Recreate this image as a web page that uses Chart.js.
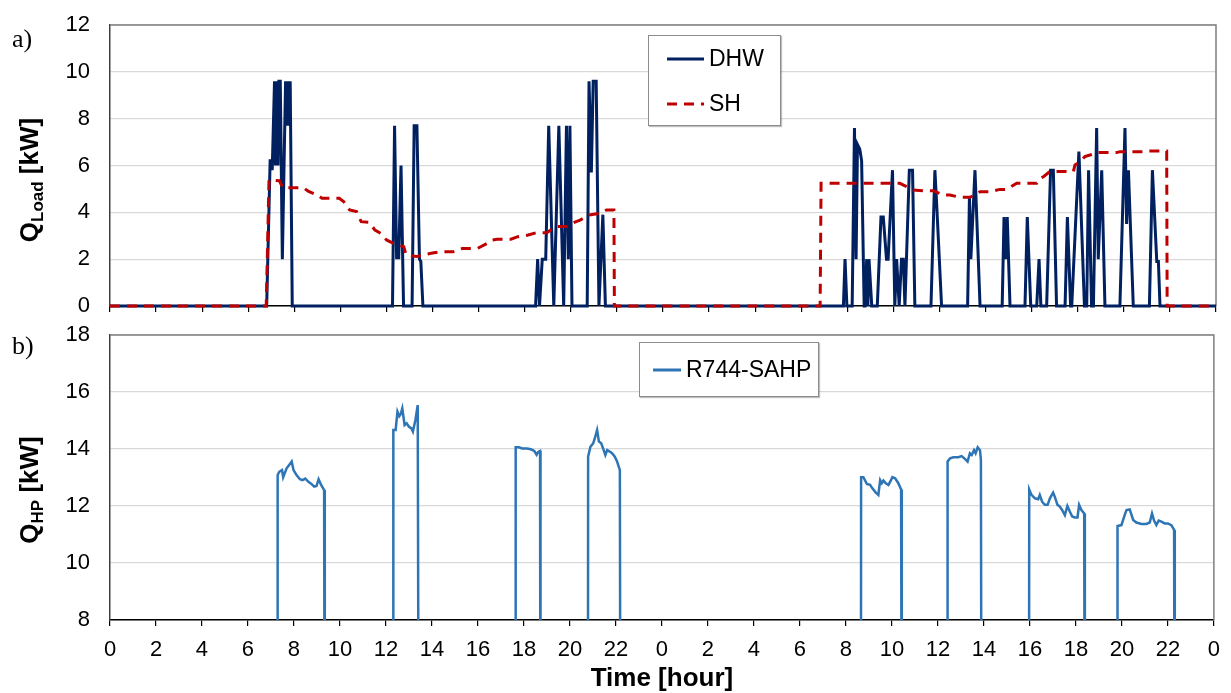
<!DOCTYPE html>
<html>
<head>
<meta charset="utf-8">
<title>DHW / SH load and R744-SAHP heat output</title>
<script src="https://cdn.jsdelivr.net/npm/chart.js@4.4.1/dist/chart.umd.min.js"></script>
<style>
  body { margin: 0; background: #fff; }
  #wrap { position: relative; width: 1231px; height: 693px; overflow: hidden; font-family: Arial, "Liberation Sans", sans-serif; }
  .panel { position: absolute; left: 0; }
  .tag { position: absolute; left: 12px; font: 26px "Liberation Serif", "Times New Roman", serif; line-height: 1; }
  .ytitle { position: absolute; font-weight: bold; font-size: 26px; line-height: 1; white-space: nowrap;
            transform: translate(-50%, -50%) rotate(-90deg); }
  .ytitle sub { font-size: 17px; vertical-align: -5px; line-height: 0; }
  .legend { position: absolute; background: #fff; border: 1px solid #8c8c8c; box-shadow: 1px 1px 1px rgba(0,0,0,0.25); font-size: 23px; }
  .item { position: absolute; display: flex; align-items: center; line-height: 1; }
  .item svg { margin-right: 5px; }
</style>
</head>
<body>
<div id="wrap">
  <canvas id="topChart" class="panel" width="1231" height="320" style="top:0"></canvas>
  <canvas id="botChart" class="panel" width="1231" height="373" style="top:320px"></canvas>

  <div class="tag" style="top:26px">a)</div>
  <div class="tag" style="top:333px">b)</div>
  <div class="ytitle" style="left:29px; top:180px">Q<sub>Load</sub> [kW]</div>
  <div class="ytitle" style="left:29px; top:490px">Q<sub>HP</sub> [kW]</div>

  <div class="legend" style="left:648px; top:35px; width:131px; height:89px">
    <div class="item" style="left:18px; top:11px">
      <svg width="37" height="6"><line x1="0" y1="3" x2="37" y2="3" stroke="#002060" stroke-width="3"/></svg>DHW
    </div>
    <div class="item" style="left:18px; top:56px">
      <svg width="37" height="6"><line x1="0" y1="3" x2="37" y2="3" stroke="#c00000" stroke-width="3" stroke-dasharray="10 7"/></svg>SH
    </div>
  </div>
  <div class="legend" style="left:639px; top:342px; width:178px; height:53px">
    <div class="item" style="left:13px; top:15px">
      <svg width="28" height="6"><line x1="0" y1="3" x2="28" y2="3" stroke="#2e75b6" stroke-width="3"/></svg>R744-SAHP
    </div>
  </div>
</div>

<script>
// ---- Data (time in hours over two days, loads in kW) ----
const dhwTime = [0, 6.80, 6.95, 7.00, 7.04, 7.14, 7.18, 7.24, 7.29, 7.33, 7.39, 7.48, 7.62, 7.68, 7.74, 7.78, 7.82, 7.91,
  12.26, 12.35, 12.44, 12.49, 12.53, 12.63, 12.74,
  13.11, 13.20, 13.32, 13.43, 13.49, 13.58,
  18.47, 18.56, 18.64, 18.76, 18.91, 19.04, 19.26, 19.48, 19.69, 19.81, 19.89, 19.96, 20.05,
  20.71, 20.79, 20.83, 20.89, 20.97, 21.10, 21.22, 21.39, 21.50,
  31.83, 31.90, 31.98,
  32.21, 32.31, 32.38, 32.44, 32.54, 32.62, 32.73,
  32.77, 32.84, 32.89, 32.94, 33.06,
  33.30, 33.46, 33.56, 33.70, 33.77, 33.96, 34.06, 34.14, 34.25, 34.35, 34.43, 34.50, 34.69, 34.83, 34.93,
  35.63, 35.80, 35.88, 36.09,
  37.22, 37.30, 37.36, 37.54, 37.76,
  38.72, 38.80, 38.87, 38.94, 39.06,
  39.71, 39.81, 39.96,
  40.22, 40.32, 40.40,
  40.65, 40.82, 40.94, 41.08,
  41.45, 41.55, 41.69,
  41.74, 42.05, 42.29,
  42.39, 42.47, 42.60,
  42.68, 42.82, 42.89, 43.04, 43.18,
  43.83, 44.05, 44.12, 44.20, 44.41,
  45.11, 45.24, 45.43, 45.50, 45.57, 48];
const dhwLoad = [0, 0, 6.2, 6.2, 5.8, 9.6, 6.0, 9.6, 6.0, 9.6, 9.6, 2.0, 9.6, 7.7, 9.6, 7.7, 9.6, 0,
  0, 7.7, 2.0, 2.6, 2.0, 6.0, 0,
  0, 7.7, 7.7, 2.0, 1.9, 0,
  0, 2.0, 0, 2.0, 2.0, 7.7, 0, 7.7, 0, 7.7, 2.0, 7.7, 0,
  0, 9.6, 9.6, 5.7, 9.6, 9.6, 0, 3.9, 0,
  0, 2.0, 0,
  0, 7.6, 2.0, 6.9, 6.7, 6.2, 0,
  0, 2.0, 0, 2.0, 0,
  0, 3.8, 3.8, 2.0, 2.0, 5.8, 0, 2.0, 0, 2.0, 2.0, 0, 5.8, 5.8, 0,
  0, 5.8, 4.3, 0,
  0, 4.7, 2.0, 5.8, 0,
  0, 3.8, 2.0, 3.8, 0,
  0, 3.8, 0,
  0, 2.0, 0,
  0, 5.8, 5.8, 0,
  0, 3.8, 0,
  0, 6.6, 0,
  0, 5.8, 0,
  0, 7.6, 2.0, 5.8, 0,
  0, 7.6, 3.5, 5.8, 0,
  0, 5.8, 1.9, 1.9, 0, 0];

const shTime = [0, 6.78, 6.90, 7.35, 7.50, 8.40, 8.60, 9.00, 9.20, 9.95, 10.15, 10.40, 10.70, 10.90, 11.25, 11.50,
  11.75, 12.00, 12.30, 12.75, 12.85, 13.30, 13.60, 14.00, 14.40, 14.90, 15.30, 15.95, 16.40, 16.60, 16.80,
  17.40, 17.70, 18.15, 18.50, 18.95, 19.35, 19.85, 20.05, 20.40, 20.80, 21.25, 21.55, 21.87, 21.89,
  30.82, 30.86, 34.28, 34.57, 34.86, 35.29, 35.73, 36.16, 36.45, 36.89, 37.32, 37.76, 38.19, 38.62, 38.91,
  39.35, 40.22, 40.36, 40.51, 40.79, 41.81, 41.88, 42.10, 42.31, 42.53, 42.82, 43.69, 43.83, 44.85, 45.00,
  45.86, 45.88, 48];
const shLoad = [0, 0, 5.38, 5.35, 5.05, 5.05, 4.90, 4.74, 4.60, 4.60, 4.45, 4.10, 4.03, 3.60, 3.57, 3.24,
  3.10, 2.82, 2.68, 2.53, 2.18, 2.11, 2.18, 2.26, 2.32, 2.32, 2.46, 2.46, 2.69, 2.82, 2.85,
  2.85, 2.96, 3.03, 3.13, 3.13, 3.39, 3.39, 3.53, 3.67, 3.89, 3.96, 4.10, 4.10, 0,
  0, 5.24, 5.24, 5.10, 4.95, 4.92, 4.92, 4.74, 4.74, 4.64, 4.64, 4.88, 4.88, 4.98, 4.98,
  5.24, 5.24, 5.45, 5.52, 5.74, 5.74, 6.02, 6.16, 6.38, 6.45, 6.55, 6.55, 6.59, 6.59, 6.62,
  6.62, 0, 0];

const hpTime = [0,
  7.28, 7.29, 7.36, 7.48, 7.53, 7.68, 7.79, 7.90, 7.98, 8.11, 8.26, 8.37, 8.49, 8.63, 8.78, 8.88, 8.98, 9.07, 9.17, 9.31, 9.34,
  12.31, 12.32, 12.42, 12.50, 12.58, 12.64, 12.71, 12.81, 12.90, 13.00, 13.10, 13.17, 13.28, 13.38, 13.43,
  17.63, 17.64, 17.78, 17.93, 18.14, 18.30, 18.45, 18.55, 18.62, 18.70, 18.72,
  20.78, 20.79, 20.89, 21.01, 21.08, 21.18, 21.26, 21.36, 21.44, 21.54, 21.62, 21.73, 21.83, 21.95, 22.05, 22.17, 22.20,
  32.65, 32.66, 32.76, 32.91, 33.05, 33.15, 33.30, 33.41, 33.49, 33.56, 33.63, 33.73, 33.85, 33.96, 34.02, 34.14, 34.28, 34.40, 34.43,
  36.41, 36.42, 36.53, 36.67, 36.89, 37.03, 37.15, 37.29, 37.39, 37.47, 37.57, 37.64, 37.73, 37.83, 37.87, 37.90,
  39.96, 39.97, 40.07, 40.22, 40.36, 40.43, 40.53, 40.65, 40.77, 40.87, 41.01, 41.08, 41.20, 41.30, 41.40, 41.52, 41.63, 41.74,
  41.84, 41.95, 42.07, 42.14, 42.24, 42.36, 42.39,
  43.80, 43.81, 43.98, 44.12, 44.20, 44.34, 44.49, 44.63, 44.85, 45.06, 45.21, 45.31, 45.40, 45.50, 45.60, 45.72, 45.86, 46.00,
  46.15, 46.27, 46.30, 48];
const hpLoad = [0,
  0, 13.09, 13.20, 13.26, 13.01, 13.32, 13.44, 13.56, 13.26, 13.09, 12.94, 12.91, 12.96, 12.85, 12.76, 12.68, 12.70, 12.94, 12.76, 12.56, 0,
  0, 14.67, 14.67, 15.31, 15.15, 15.22, 15.43, 14.84, 14.90, 14.78, 14.73, 14.61, 15.02, 15.54, 0,
  0, 14.06, 14.06, 14.02, 14.02, 13.99, 13.93, 13.80, 13.90, 13.93, 0,
  0, 13.73, 14.08, 14.20, 14.37, 14.67, 14.26, 14.20, 14.02, 13.79, 13.96, 13.91, 13.85, 13.73, 13.56, 13.26, 0,
  0, 13.01, 13.01, 12.77, 12.74, 12.62, 12.47, 12.39, 12.91, 12.80, 12.89, 12.80, 12.74, 12.91, 13.01, 12.97, 12.80, 12.58, 0,
  0, 13.56, 13.67, 13.71, 13.71, 13.75, 13.67, 13.56, 13.85, 13.79, 13.96, 13.85, 14.06, 13.96, 13.61, 0,
  0, 12.58, 12.39, 12.27, 12.24, 12.39, 12.15, 12.04, 12.04, 12.27, 12.47, 12.33, 12.04, 11.98, 11.86, 11.68, 12.00, 11.80,
  11.63, 11.60, 11.60, 12.04, 11.86, 11.74, 0,
  0, 11.30, 11.33, 11.68, 11.86, 11.88, 11.51, 11.42, 11.37, 11.37, 11.42, 11.74, 11.49, 11.33, 11.49, 11.45, 11.39, 11.39,
  11.33, 11.16, 0, 0];

const FONT = 'Arial, "Liberation Sans", sans-serif';
Chart.defaults.font.family = FONT;
Chart.defaults.color = '#000';

const toPts = (t, v) => t.map((x, i) => ({ x, y: v[i] }));

// grey frame on top/right of the plot area
const frame = {
  id: 'frame',
  beforeDatasetsDraw(chart) {
    const { ctx, chartArea: a } = chart;
    ctx.save();
    ctx.strokeStyle = '#7f7f7f';
    ctx.lineWidth = 1.5;
    ctx.beginPath();
    ctx.moveTo(a.left, a.top);
    ctx.lineTo(a.right, a.top);
    ctx.lineTo(a.right, a.bottom);
    ctx.stroke();
    ctx.restore();
  }
};

const xAxis = (showLabels, height) => ({
  type: 'linear', min: 0, max: 48,
  ticks: {
    display: showLabels, stepSize: 2, autoSkip: false, maxRotation: 0, padding: 11,
    font: { size: 22 }, callback: v => v % 24
  },
  grid: { drawOnChartArea: false, drawTicks: true, tickLength: 6, color: '#000', lineWidth: 1.2 },
  border: { color: '#000', width: 1.5 },
  title: {
    display: showLabels, text: 'Time [hour]',
    font: { size: 26, weight: 'bold', lineHeight: 1.08 }, padding: { top: 0, bottom: 0 }
  },
  afterFit: s => { s.height = height; }
});

// label gap comes from an invisible tick mark, keeping the scale's own padding small
const yAxis = (min, max) => ({
  min, max,
  ticks: { stepSize: 2, padding: 2, font: { size: 22, lineHeight: 1 } },
  grid: { color: '#d9d9d9', lineWidth: 1.2, drawTicks: true, tickLength: 18, tickColor: 'rgba(0,0,0,0)' },
  border: { color: '#404040', width: 1.5 },
  afterFit: s => { s.width = 110; }
});

// ---- a) Loads ----
new Chart(document.getElementById('topChart'), {
  type: 'line',
  data: {
    datasets: [
      {
        label: 'SH', data: toPts(shTime, shLoad), order: 0,
        borderColor: '#c00000', borderWidth: 3, borderDash: [10, 7],
        pointRadius: 0, tension: 0, clip: { left: 0, top: 0, right: 0, bottom: 3 }
      },
      {
        label: 'DHW', data: toPts(dhwTime, dhwLoad), order: 1,
        borderColor: '#002060', borderWidth: 3,
        pointRadius: 0, tension: 0, clip: { left: 0, top: 0, right: 0, bottom: 3 }
      }
    ]
  },
  options: {
    responsive: false, animation: false,
    layout: { padding: { top: 25, right: 15, left: 0, bottom: 0 } },
    plugins: { legend: { display: false }, tooltip: { enabled: false } },
    scales: { x: xAxis(false, 14), y: yAxis(0, 12) }
  },
  plugins: [frame]
});

// ---- b) Heat pump output ----
new Chart(document.getElementById('botChart'), {
  type: 'line',
  data: {
    datasets: [{
      label: 'R744-SAHP', data: toPts(hpTime, hpLoad),
      borderColor: '#2e75b6', borderWidth: 2.5, pointRadius: 0, tension: 0
    }]
  },
  options: {
    responsive: false, animation: false,
    layout: { padding: { top: 15, right: 15, left: 0, bottom: 0 } },
    plugins: { legend: { display: false }, tooltip: { enabled: false } },
    scales: { x: xAxis(true, 73), y: yAxis(8, 18) }
  },
  plugins: [frame]
});
</script>
</body>
</html>
